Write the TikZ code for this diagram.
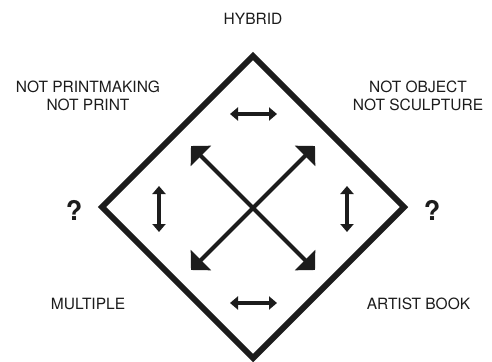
\documentclass[tikz,border=0pt]{standalone}
\usepackage{fontspec}
\setmainfont{TeX Gyre Heros}
\usetikzlibrary{arrows.meta}
\definecolor{ink}{HTML}{1C1C1C}
\begin{document}
\begin{tikzpicture}[x=1pt,y=-1pt,
  lbl/.style={anchor=base,inner sep=0pt,text=ink,font=\fontsize{15.5}{18.5}\selectfont},
  qmark/.style={anchor=base,inner sep=0pt,text=ink,font=\fontsize{27}{30}\selectfont\bfseries},
  frame/.style={draw=ink,line width=6pt,miter limit=10,line join=miter},
  bigarrow/.style={draw=ink,line width=4pt,{Triangle[length=14pt,width=28pt]}-{Triangle[length=14pt,width=28pt]}},
  smallarrow/.style={draw=ink,line width=3.2pt,{Triangle[length=8pt,width=13pt]}-{Triangle[length=8pt,width=13pt]}}]
\useasboundingbox[fill=white] (0,0) rectangle (492,361);

% diamond corners
\coordinate (T) at (253,56);
\coordinate (R) at (404,207);
\coordinate (B) at (253,358);
\coordinate (L) at (102,207);
\draw[frame] (T) -- (R) -- (B) -- (L) -- cycle;

% labels
\node[lbl] (hybrid) at (253,25) {HYBRID};
\node[lbl] (np1) at (88,92) {NOT PRINTMAKING};
\node[lbl] (np2) at (88,110.5) {NOT PRINT};
\node[lbl] (no1) at (418,92) {NOT OBJECT};
\node[lbl] (no2) at (418,110.5) {NOT SCULPTURE};
\node[lbl] (mult) at (88,309) {MULTIPLE};
\node[lbl] (ab) at (418.5,309) {ARTIST BOOK};
\node[qmark] (ql) at (74,220) {?};
\node[qmark] (qr) at (432,220) {?};

% X arrows
\coordinate (xtl) at (191,146);
\coordinate (xtr) at (315,146);
\coordinate (xbl) at (191,270);
\coordinate (xbr) at (315,270);
\draw[bigarrow] (xtl) -- (xbr);
\draw[bigarrow] (xbl) -- (xtr);

% small double arrows
\coordinate (ht1) at (230,114); \coordinate (ht2) at (277,114);
\coordinate (hb1) at (230,303); \coordinate (hb2) at (277,303);
\coordinate (vl1) at (159,186); \coordinate (vl2) at (159,232);
\coordinate (vr1) at (347,186); \coordinate (vr2) at (347,232);
\draw[smallarrow] (ht1) -- (ht2);
\draw[smallarrow] (hb1) -- (hb2);
\draw[smallarrow] (vl1) -- (vl2);
\draw[smallarrow] (vr1) -- (vr2);
\end{tikzpicture}
\end{document}
